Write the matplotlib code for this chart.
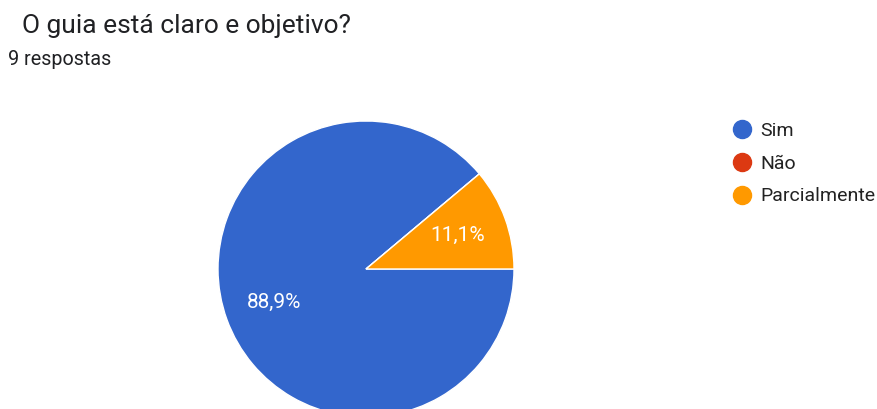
import matplotlib.pyplot as plt
from matplotlib.lines import Line2D

plt.rcParams['font.family'] = ['Roboto', 'DejaVu Sans']

labels = ['Sim', 'Não', 'Parcialmente']
counts = [8, 0, 1]
colors = ['#3366CC', '#DC3912', '#FF9900']
title = 'O guia está claro e objetivo?'
subtitle = '9 respostas'

W, H = 877, 409
fig = plt.figure(figsize=(W/100, H/100), dpi=100)

# pie axes: centre ~(366, 269) px, radius ~148 px
cx, cy, r = 366, 269, 148
ax = fig.add_axes([(cx - r)/W, (H - cy - r)/H, 2*r/W, 2*r/H])
wedges, texts, autotexts = ax.pie(
    counts, colors=colors, startangle=0, counterclock=False,
    autopct=lambda p: f'{p:.1f}%'.replace('.', ',') if p > 0 else '',
    pctdistance=0.66, radius=1,
    wedgeprops=dict(edgecolor='white', linewidth=1),
    textprops=dict(color='white', fontsize=15))
ax.set_xlim(-1, 1)
ax.set_ylim(-1, 1)
ax.set_aspect('equal')
ax.axis('off')

fig.text(22/W, 1 - 33/H, title, fontsize=19, color='#202124', va='baseline')
fig.text(8/W, 1 - 65/H, subtitle, fontsize=14.2, color='#202124', va='baseline')

handles = [Line2D([], [], marker='o', linestyle='none', markersize=13,
                  markerfacecolor=c, markeredgecolor=c) for c in colors]
fig.legend(handles, labels, loc='upper left', bbox_to_anchor=(724/W, 1 - 114/H),
           frameon=False, fontsize=14, handletextpad=0.45, labelspacing=0.76,
           handlelength=1.0, borderaxespad=0, labelcolor='#222222')

fig.savefig('out.png', dpi=100)
